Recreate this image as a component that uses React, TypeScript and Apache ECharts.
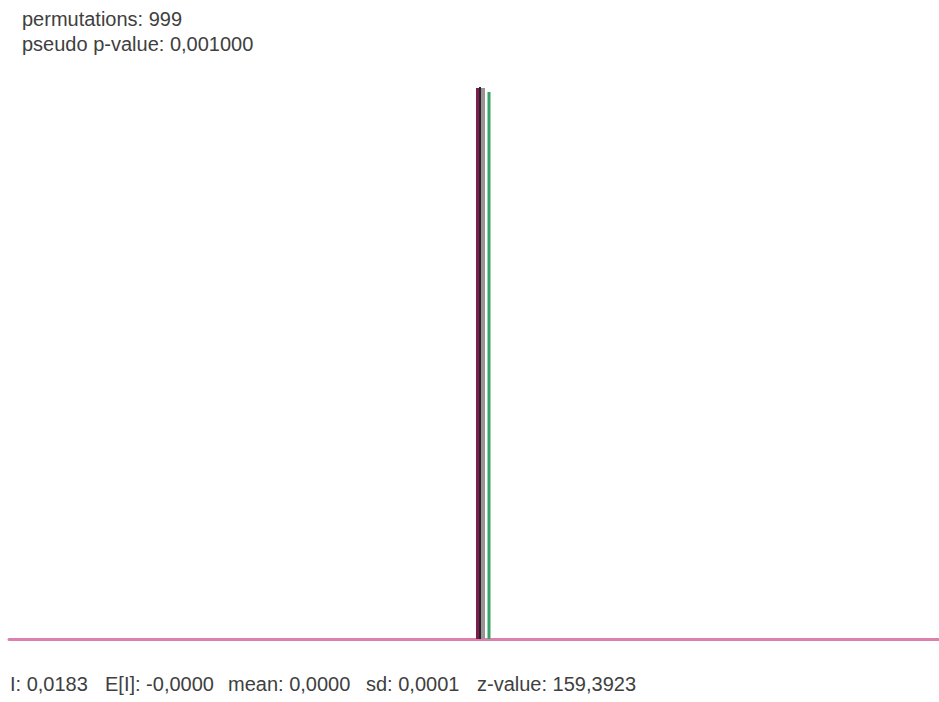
import React, { useEffect, useRef } from "react";
import * as echarts from "echarts";

// Header lines
const headerLines = ["permutations: 999", "pseudo p-value: 0,001000"];

// Footer statistics
const statLabels = ["I:", "E[I]:", "mean:", "sd:", "z-value:"];
const statValues = ["0,0183", "-0,0000", "0,0000", "0,0001", "159,3923"];

// Histogram bins of the reference distribution (start, end, count)
const binStarts = [0.0002, 0.0005, 0.0007];
const binEnds = [0.0005, 0.0007, 0.0011];
const binCounts = [998, 1000, 998];
const binColors = ["#7a1d4c", "#2b2228", "#9a9396"];

// Observed statistic line (x range and height)
const observedStart = [0.00135];
const observedEnd = [0.00165];
const observedHeight = [991];

const xMin = -0.0465;
const xMax = 0.0465;

export default function App() {
  const ref = useRef<HTMLDivElement>(null);

  useEffect(() => {
    if (!ref.current) return;
    const chart = echarts.init(ref.current, undefined, { renderer: "svg" });

    const binData = binStarts.map((s, i) => [s, binEnds[i], binCounts[i], i]);
    const obsData = observedStart.map((s, i) => [s, observedEnd[i], observedHeight[i]]);

    const renderBar = (colorFn: (i: number) => string) => (params: any, api: any) => {
      const x0 = api.value(0);
      const x1 = api.value(1);
      const h = api.value(2);
      const p0 = api.coord([x0, 0]);
      const p1 = api.coord([x1, h]);
      return {
        type: "rect",
        shape: { x: p0[0], y: p1[1], width: p1[0] - p0[0], height: p0[1] - p1[1] },
        style: { fill: colorFn(params.dataIndex) },
      };
    };

    const font = "Liberation Sans, Arial, sans-serif";
    const textColor = "#404040";

    const footerX = [10, 105, 228, 366, 477];
    const footerTexts = statLabels.map((l, i) => `${l} ${statValues[i]}`);
    const headerY = [19, 44];

    chart.setOption({
      animation: false,
      backgroundColor: "#ffffff",
      grid: { left: 9, right: 0, top: 87, bottom: 63 },
      xAxis: {
        type: "value",
        min: xMin,
        max: xMax,
        axisLine: { show: true, onZero: false, lineStyle: { color: "#dc80ad", width: 3 } },
        axisTick: { show: false },
        axisLabel: { show: false },
        splitLine: { show: false },
      },
      yAxis: {
        type: "value",
        min: 0,
        max: 1000,
        show: false,
        splitLine: { show: false },
      },
      series: [
        {
          type: "custom",
          renderItem: renderBar((i) => binColors[i]),
          data: binData,
          encode: { x: [0, 1], y: 2 },
          z: 3,
        },
        {
          type: "custom",
          renderItem: renderBar(() => "#3aa266"),
          data: obsData,
          encode: { x: [0, 1], y: 2 },
          z: 4,
        },
      ],
      graphic: [
        ...headerLines.map((t, i) => ({
          type: "text",
          x: 22,
          y: headerY[i],
          style: { text: t, fill: textColor, font: `20px ${font}`, verticalAlign: "middle" },
        })),
        ...footerTexts.map((t, i) => ({
          type: "text",
          x: footerX[i],
          y: 684,
          style: { text: t, fill: textColor, font: `20px ${font}`, verticalAlign: "middle" },
        })),
      ],
    });

    return () => chart.dispose();
  }, []);

  return (
    <div
      ref={ref}
      style={{ position: "absolute", left: 0, top: 0, width: 939, height: 702 }}
    />
  );
}
